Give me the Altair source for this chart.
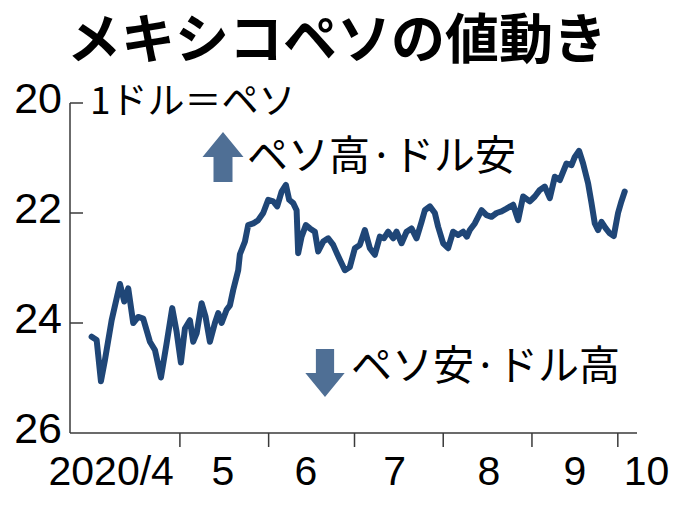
import altair as alt
import pandas as pd

# ---- data ----
# days after 2020-04-01 for each vertex of the line, and the peso per dollar value
day_offsets = [-0.84, 0.91, 2.41, 3.81, 6.15, 9.05, 10.55, 11.95, 13.69, 15.44,
               17.18, 19.52, 21.27, 23.37, 25.36, 27.31, 28.85, 30.35, 31.75, 33.49,
               34.65, 35.84, 37.58, 38.98, 40.48, 42.23, 43.38, 44.57, 46.32, 47.47,
               48.62, 50.37, 50.96, 52.71, 53.86, 55.61, 57.35, 59.10, 60.85, 62.59,
               63.99, 65.53, 67.03, 68.18, 69.58, 70.77, 71.32, 72.51, 74.01, 75.41,
               77.16, 78.31, 80.06, 81.80, 83.55, 84.74, 85.89, 87.64, 89.38, 91.13,
               92.87, 94.62, 96.37, 98.11, 99.86, 101.26, 102.76, 104.51, 105.69, 107.44,
               109.19, 110.93, 112.68, 114.43, 115.58, 117.33, 119.07, 120.22, 121.97, 123.72,
               125.46, 127.21, 128.96, 130.25, 131.30, 133.04, 135.38, 137.13, 138.87, 140.62,
               142.37, 144.11, 146.42, 148.17, 149.91, 152.25, 154.00, 155.75, 157.49, 159.24,
               160.99, 162.73, 165.07, 166.82, 167.97, 169.47, 170.87, 172.61, 173.80, 174.95,
               176.10, 177.29, 178.79, 180.18, 181.58, 183.08, 184.25, 185.41]
rates = [24.25, 24.31, 25.06, 24.67, 23.95, 23.29, 23.61, 23.37, 24.00, 23.89,
         23.92, 24.34, 24.49, 24.99, 24.37, 23.73, 24.16, 24.72, 24.10, 23.95,
         24.34, 24.19, 23.64, 23.89, 24.34, 24.00, 23.82, 24.00, 23.76, 23.68,
         23.40, 23.04, 22.75, 22.52, 22.22, 22.19, 22.13, 22.00, 21.76, 21.79,
         21.88, 21.61, 21.49, 21.76, 21.82, 21.95, 22.73, 22.43, 22.22, 22.28,
         22.34, 22.70, 22.52, 22.46, 22.58, 22.72, 22.85, 23.04, 22.98, 22.64,
         22.58, 22.31, 22.64, 22.76, 22.43, 22.46, 22.34, 22.46, 22.34, 22.55,
         22.34, 22.28, 22.46, 22.16, 21.95, 21.88, 22.00, 22.25, 22.55, 22.64,
         22.34, 22.40, 22.34, 22.43, 22.31, 22.19, 21.95, 22.04, 22.07, 22.00,
         21.97, 21.92, 21.85, 22.13, 21.70, 21.79, 21.70, 21.58, 21.52, 21.73,
         21.34, 21.40, 21.10, 21.13, 20.98, 20.87, 21.10, 21.46, 21.82, 22.19,
         22.31, 22.16, 22.28, 22.37, 22.42, 22.00, 21.79, 21.61]

tick_dates = ["2020-05-01", "2020-06-01", "2020-07-01", "2020-08-01",
              "2020-09-01", "2020-10-01"]
label_dates = ["2020-04-07", "2020-05-16", "2020-06-14", "2020-07-15",
               "2020-08-17", "2020-09-16", "2020-10-11"]
label_texts = ["2020/4", "5", "6", "7", "8", "9", "10"]
y_ticks = [20, 22, 24, 26]
y_tick_labels = ["20", "22", "24", "26"]
inner_ticks = [20, 22, 24]

title_text = "メキシコペソの値動き"
unit_text = "1ドル＝ペソ"
up_text = "ペソ高·ドル安"
down_text = "ペソ安·ドル高"

# ---- build tables ----
start = pd.Timestamp("2020-04-01")
df = pd.DataFrame({"date": start + pd.to_timedelta(day_offsets, unit="D"), "rate": rates})
df_labels = pd.DataFrame({"date": pd.to_datetime(label_dates), "label": label_texts})
df_xticks = pd.DataFrame({"date": pd.to_datetime(tick_dates)})
df_yinner = pd.DataFrame({"v": inner_ticks})
df_ylabels = pd.DataFrame({"v": y_ticks, "label": y_tick_labels})

W, H = 567, 330
NUM_FONT = "Liberation Sans"
JP_FONT = "Noto Sans CJK JP"
AXIS_COLOR = "#3a3a3a"
LINE_COLOR = "#1f4677"
ARROW_COLOR = "#4f6f95"

x_scale = alt.Scale(domain=[alt.DateTime(year=2020, month=3, date=23, hours=14, minutes=24),
                            alt.DateTime(year=2020, month=10, date=7, hours=16, minutes=48)])
y_scale = alt.Scale(domain=[20, 26], reverse=True, nice=False, zero=False)

line = alt.Chart(df).mark_line(color=LINE_COLOR, strokeWidth=6, strokeJoin="round",
                               strokeCap="round").encode(
    x=alt.X("date:T", scale=x_scale, axis=None),
    y=alt.Y("rate:Q", scale=y_scale, axis=None),
)

# axis lines
y_domain = alt.Chart(pd.DataFrame({"k": [0]})).mark_rule(color=AXIS_COLOR, strokeWidth=1.5).encode(
    x=alt.value(0), y=alt.value(0), y2=alt.value(H))
x_domain = alt.Chart(pd.DataFrame({"k": [0]})).mark_rule(color=AXIS_COLOR, strokeWidth=1.5).encode(
    x=alt.value(0), x2=alt.value(W), y=alt.value(H))

y_ticks_in = alt.Chart(df_yinner).mark_rule(color=AXIS_COLOR, strokeWidth=1.5).encode(
    y=alt.Y("v:Q", scale=y_scale, axis=None),
    x=alt.value(0), x2=alt.value(13),
)

x_ticks = alt.Chart(df_xticks).mark_rule(color=AXIS_COLOR, strokeWidth=1.5).encode(
    x=alt.X("date:T", scale=x_scale, axis=None),
    y=alt.value(H), y2=alt.value(H + 14),
)

y_labels = alt.Chart(df_ylabels).mark_text(
    font=NUM_FONT, fontSize=43, color="black", align="right", baseline="middle", dy=-3
).encode(
    y=alt.Y("v:Q", scale=y_scale, axis=None),
    x=alt.value(-8),
    text="label:N",
)

month_labels = alt.Chart(df_labels).mark_text(
    font=NUM_FONT, fontSize=41, color="black", baseline="middle", align="center"
).encode(
    x=alt.X("date:T", scale=x_scale, axis=None),
    y=alt.value(H + 40),
    text="label:N",
)

title = alt.Chart(pd.DataFrame({"t": [title_text]})).mark_text(
    font=JP_FONT, fontSize=54, fontWeight="bold", color="black", align="left", baseline="middle"
).encode(x=alt.value(-3), y=alt.value(-60), text="t:N")

unit = alt.Chart(pd.DataFrame({"t": [unit_text]})).mark_text(
    font=JP_FONT, fontSize=37, color="black", align="left", baseline="middle"
).encode(x=alt.value(20), y=alt.value(0), text="t:N")

up_label = alt.Chart(pd.DataFrame({"t": [up_text]})).mark_text(
    font=JP_FONT, fontSize=41, color="black", align="left", baseline="middle"
).encode(x=alt.value(177), y=alt.value(55), text="t:N")

down_label = alt.Chart(pd.DataFrame({"t": [down_text]})).mark_text(
    font=JP_FONT, fontSize=41, color="black", align="left", baseline="middle"
).encode(x=alt.value(281), y=alt.value(265), text="t:N")

UP_PATH = "M0,-1L0.82,0L0.38,0L0.38,1L-0.38,1L-0.38,0L-0.82,0Z"
DOWN_PATH = "M0,1L0.82,0L0.38,0L0.38,-1L-0.38,-1L-0.38,0L-0.82,0Z"

up_arrow = alt.Chart(pd.DataFrame({"k": ["up"]})).mark_point(
    shape=UP_PATH, filled=True, color=ARROW_COLOR, opacity=1, size=2500, strokeWidth=0
).encode(x=alt.value(153), y=alt.value(54))

down_arrow = alt.Chart(pd.DataFrame({"k": ["down"]})).mark_point(
    shape=DOWN_PATH, filled=True, color=ARROW_COLOR, opacity=1, size=2300, strokeWidth=0
).encode(x=alt.value(255), y=alt.value(270))

chart = alt.layer(
    y_domain, x_domain, y_ticks_in, x_ticks, line, y_labels, month_labels,
    title, unit, up_label, down_label, up_arrow, down_arrow
).properties(
    width=W, height=H,
    autosize=alt.AutoSizeParams(type="none"),
    padding={"left": 62, "top": 95, "right": 35, "bottom": 69},
    background="white",
).configure_view(stroke=None)

chart.save("out.html", embed_options={"renderer": "svg", "actions": False})
